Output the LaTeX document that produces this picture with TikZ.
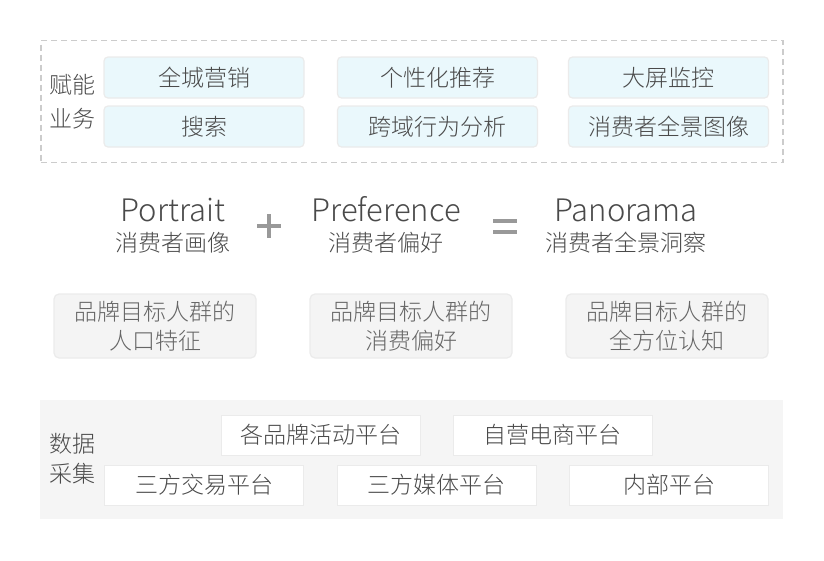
\documentclass[tikz,border=0pt]{standalone}
\usepackage{fontspec}
\setmainfont{Noto Sans CJK SC Light}
\definecolor{txt}{HTML}{4A4A4A}
\definecolor{txtl}{HTML}{666666}
\definecolor{bluefill}{HTML}{EAF8FC}
\definecolor{edgegray}{HTML}{EBEBEB}
\definecolor{grayfill}{HTML}{F4F4F4}
\definecolor{panel}{HTML}{F5F5F5}
\definecolor{dashc}{HTML}{CCCCCC}
\definecolor{opc}{HTML}{999999}
\tikzset{
  cjk/.style={font=\fontsize{23}{28}\selectfont, text=txt},
  bluebox/.style={cjk, fill=bluefill, draw=edgegray, line width=1.2pt, rounded corners=4pt,
    minimum width=200pt, minimum height=41pt, inner sep=0pt},
  graybox/.style={font=\fontsize{23}{29}\selectfont, text=txtl, fill=grayfill, draw=edgegray, line width=1.2pt,
    rounded corners=5pt, minimum width=202pt, minimum height=64pt, inner sep=0pt, align=center},
  whitebox/.style={cjk, fill=white, draw=edgegray, line width=1pt,
    minimum width=199pt, minimum height=40pt, inner sep=0pt},
  lbl/.style={cjk, align=center, inner sep=0pt},
  eng/.style={font=\fontsize{31}{34}\selectfont, text=txt, anchor=base, inner sep=0pt},
  sub/.style={cjk, anchor=base, inner sep=0pt},
  opbar/.style={fill=opc, draw=none}
}
\begin{document}
\begin{tikzpicture}[x=1pt,y=-1pt]
\useasboundingbox (0,0) rectangle (824,560);
% top dashed frame
\node[draw=dashc, dash pattern=on 6pt off 4pt, line width=1.3pt, minimum width=742pt, minimum height=122pt, inner sep=0pt] (top) at (412,101.5) {};
\node[lbl] (l1) at (72,102) {赋能\\[6pt]业务};
\node[bluebox] (b1) at (204,77.5) {全城营销};
\node[bluebox] (b2) at (437.5,77.5) {个性化推荐};
\node[bluebox] (b3) at (668.5,77.5) {大屏监控};
\node[bluebox] (b4) at (204,126.5) {搜索};
\node[bluebox] (b5) at (437.5,126.5) {跨域行为分析};
\node[bluebox] (b6) at (668.5,126.5) {消费者全景图像};
% middle formula
\node[eng] (e1) at (173,221) {Portrait};
\node[sub] (s1) at (173,251) {消费者画像};
\path[opbar] (257,224) rectangle (281,228);
\path[opbar] (267,214) rectangle (271,238);
\node[eng] (e2) at (386,221) {Preference};
\node[sub] (s2) at (386,251) {消费者偏好};
\path[opbar] (493,219) rectangle (517,223);
\path[opbar] (493,230) rectangle (517,234);
\node[eng] (e3) at (626,221) {Panorama};
\node[sub] (s3) at (626,251) {消费者全景洞察};
% gray boxes
\node[graybox] (g1) at (155,326) {品牌目标人群的\\人口特征};
\node[graybox] (g2) at (411,326) {品牌目标人群的\\消费偏好};
\node[graybox] (g3) at (667,326) {品牌目标人群的\\全方位认知};
% bottom panel
\node[fill=panel, minimum width=743pt, minimum height=119pt, inner sep=0pt] (bot) at (411.5,459.5) {};
\node[lbl] (l2) at (72,459) {数据\\[2pt]采集};
\node[whitebox] (w1) at (321,435) {各品牌活动平台};
\node[whitebox] (w2) at (552.5,435) {自营电商平台};
\node[whitebox] (w3) at (204,485) {三方交易平台};
\node[whitebox] (w4) at (436.5,485) {三方媒体平台};
\node[whitebox] (w5) at (669,485) {内部平台};
\end{tikzpicture}
\end{document}
